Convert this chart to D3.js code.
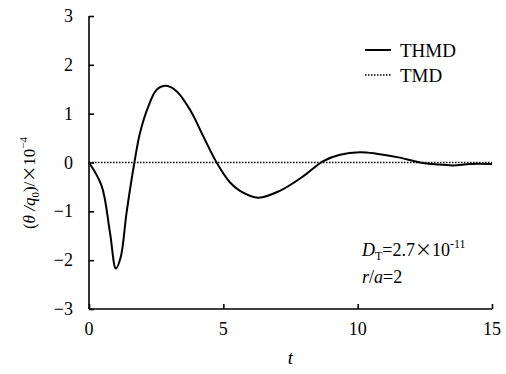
<!DOCTYPE html>
<html>
<head>
<meta charset="utf-8">
<script src="https://cdn.jsdelivr.net/npm/d3@7"></script>
<style>
  body { margin: 0; background: #fff; }
</style>
</head>
<body>
<div id="chart"></div>
<script>
// THMD curve
var tValues = [0, 0.47, 0.78, 1.0, 1.18, 1.4, 1.69, 1.9, 2.21, 2.52, 2.87, 3.26, 3.76, 4.25, 4.75, 5.25, 5.62, 6.3, 7.1, 7.98, 8.72, 9.34, 10.08, 10.7, 11.57, 12.32, 12.94, 13.56, 14.18, 15];
var thmdValues = [0, -0.48, -1.43, -2.17, -1.94, -1.02, 0, 0.61, 1.15, 1.49, 1.57, 1.46, 1.08, 0.54, 0, -0.41, -0.58, -0.72, -0.58, -0.28, 0.03, 0.16, 0.21, 0.18, 0.1, 0, -0.04, -0.06, -0.03, -0.03];
var tmdT = [0, 15];
var tmdValues = [0, 0];
var xTicks = [0, 5, 10, 15];
var yTicks = [-3, -2, -1, 0, 1, 2, 3];

var serif = "'Liberation Serif', 'Times New Roman', serif";
var cjk = "'Noto Sans CJK SC', sans-serif";

var width = 506, height = 374;
var svg = d3.select('#chart').append('svg')
  .attr('width', width)
  .attr('height', height)
  .attr('font-family', serif);

var x = d3.scaleLinear().domain([0, 15]).range([89, 492]);
var y = d3.scaleLinear().domain([-3, 3]).range([309, 16]);

// axes, ticks pointing inward
var xAxis = svg.append('g')
  .attr('transform', 'translate(0,' + y(-3) + ')')
  .call(d3.axisTop(x).tickValues(xTicks).tickSize(5).tickFormat(''));
xAxis.select('.domain').attr('d', 'M' + x(0) + ',0H' + x(15));
var yAxis = svg.append('g')
  .attr('transform', 'translate(' + x(0) + ',0)')
  .call(d3.axisRight(y).tickValues(yTicks).tickSize(5).tickFormat(''));
yAxis.select('.domain').attr('d', 'M0,' + y(3) + 'V' + y(-3));
svg.selectAll('.domain, .tick line').attr('stroke', '#000').attr('stroke-width', 1.6);

svg.selectAll('.xlab').data(xTicks).enter().append('text')
  .attr('x', function(d) { return x(d); })
  .attr('y', 335)
  .attr('text-anchor', 'middle')
  .style('font-family', serif)
  .style('font-size', '18px')
  .text(function(d) { return d; });

svg.selectAll('.ylab').data(yTicks).enter().append('text')
  .attr('x', 73)
  .attr('y', function(d) { return y(d) + 6; })
  .attr('text-anchor', 'end')
  .style('font-family', serif)
  .style('font-size', '18px')
  .text(function(d) { return d < 0 ? '\u2212' + Math.abs(d) : d; });

// lines
var line = d3.line()
  .x(function(d) { return x(d[0]); })
  .y(function(d) { return y(d[1]); })
  .curve(d3.curveCatmullRom.alpha(0.5));

svg.append('path')
  .datum(d3.zip(tmdT, tmdValues))
  .attr('d', line)
  .attr('fill', 'none')
  .attr('stroke', '#000')
  .attr('stroke-width', 1.5)
  .attr('stroke-dasharray', '1.5,1.5');

svg.append('path')
  .datum(d3.zip(tValues, thmdValues))
  .attr('d', line)
  .attr('fill', 'none')
  .attr('stroke', '#000')
  .attr('stroke-width', 2);

// legend
var legend = svg.append('g').style('font-family', serif).style('font-size', '19px');
legend.append('line').attr('x1', 365).attr('x2', 391).attr('y1', 50).attr('y2', 50)
  .attr('stroke', '#000').attr('stroke-width', 2);
legend.append('text').attr('x', 400).attr('y', 57).text('THMD');
legend.append('line').attr('x1', 365).attr('x2', 391).attr('y1', 75).attr('y2', 75)
  .attr('stroke', '#000').attr('stroke-width', 1.5).attr('stroke-dasharray', '1.5,1.5');
legend.append('text').attr('x', 400).attr('y', 82).text('TMD');

// annotation
var ann = svg.append('text').attr('x', 362).attr('y', 256).style('font-family', serif).style('font-size', '18px');
ann.append('tspan').style('font-style', 'italic').text('D');
ann.append('tspan').attr('dy', 4).style('font-size', '12px').text('T');
ann.append('tspan').attr('dy', -4).text('=2.7');
ann.append('tspan').style('font-family', cjk).style('font-size', '17px').text('\u00d7');
ann.append('tspan').text('10');
ann.append('tspan').attr('dy', -8).style('font-size', '12px').text('-11');
var ann2 = svg.append('text').attr('x', 362).attr('y', 283).style('font-family', serif).style('font-size', '18px');
ann2.append('tspan').style('font-style', 'italic').text('r');
ann2.append('tspan').text('/');
ann2.append('tspan').style('font-style', 'italic').text('a');
ann2.append('tspan').text('=2');

// axis titles
svg.append('text')
  .attr('x', x(7.5))
  .attr('y', 364)
  .attr('text-anchor', 'middle')
  .style('font-family', serif)
  .style('font-size', '19px')
  .style('font-style', 'italic')
  .text('t');

var yt = svg.append('text')
  .attr('transform', 'translate(35,183) rotate(-90)')
  .attr('text-anchor', 'middle')
  .style('font-family', serif)
  .style('font-size', '17px');
yt.append('tspan').text('(');
yt.append('tspan').style('font-style', 'italic').text('\u03b8 /q');
yt.append('tspan').attr('dy', 4).style('font-size', '11px').text('0');
yt.append('tspan').attr('dy', -4).text(')/');
yt.append('tspan').style('font-family', cjk).style('font-size', '16px').text('\u00d7');
yt.append('tspan').text('10');
yt.append('tspan').attr('dy', -8).style('font-size', '11px').text('\u22124');
</script>
</body>
</html>
